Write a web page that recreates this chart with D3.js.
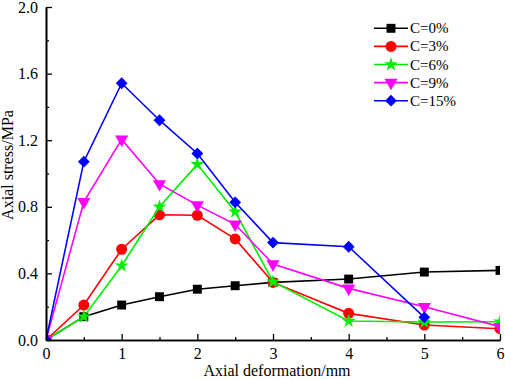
<!DOCTYPE html>
<html lang="en">
<head>
<meta charset="utf-8">
<title>Axial stress vs deformation</title>
<script src="https://cdn.jsdelivr.net/npm/d3@7"></script>
<style>
body { margin: 0; background: #fff; }
svg text { font-family: "Liberation Serif", "Times New Roman", serif; }
</style>
</head>
<body>
<script>
var w = 505, h = 379;
var mLeft = 46, mRight = 500, mTop = 7, mBottom = 340;

// data
var deformation = [0, 0.5, 1, 1.5, 2, 2.5, 3, 4, 5, 6];
var c0 = [0, 0.14, 0.21, 0.26, 0.305, 0.326, 0.346, 0.366, 0.408, 0.418];
var c3 = [0, 0.21, 0.545, 0.752, 0.749, 0.607, 0.346, 0.16, 0.09, 0.068];
var c6 = [0, 0.14, 0.446, 0.80, 1.055, 0.77, 0.35, 0.114, 0.108, 0.11];
var c9 = [0, 0.83, 1.205, 0.937, 0.81, 0.695, 0.456, 0.31, 0.2, 0.08];
var c15 = [0, 1.071, 1.542, 1.32, 1.12, 0.827, 0.585, 0.56, 0.136];
var seriesNames = ["C=0%", "C=3%", "C=6%", "C=9%", "C=15%"];
var seriesColors = ["#000000", "#ff0000", "#00ee00", "#ff00ff", "#0000ff"];
var seriesValues = [c0, c3, c6, c9, c15];
var xTicks = [0, 1, 2, 3, 4, 5, 6];
var yTicks = [0, 0.4, 0.8, 1.2, 1.6, 2.0];

var x = d3.scaleLinear().domain([0, 6]).range([mLeft, mRight]);
var y = d3.scaleLinear().domain([0, 2]).range([mBottom, mTop]);

var svg = d3.select("body").append("svg")
    .attr("width", w)
    .attr("height", h);

svg.append("defs").append("clipPath").attr("id", "plot")
    .append("rect")
    .attr("x", mLeft).attr("y", mTop - 10)
    .attr("width", mRight - mLeft).attr("height", mBottom - mTop + 10);

// marker shapes
function marker(i) {
    if (i === 0) return d3.symbol().type(d3.symbolSquare).size(80)();
    if (i === 1) return d3.symbol().type(d3.symbolCircle).size(95)();
    if (i === 2) return d3.symbol().type(d3.symbolStar).size(60)();
    if (i === 3) return d3.symbol().type(d3.symbolTriangle).size(75)();
    return d3.symbol().type(d3.symbolSquare).size(70)();
}
function markerRot(i) {
    if (i === 3) return " rotate(180)";
    if (i === 4) return " rotate(45)";
    return "";
}

var line = d3.line()
    .x(function(d) { return x(d[0]); })
    .y(function(d) { return y(d[1]); });

var plot = svg.append("g").attr("clip-path", "url(#plot)");

seriesValues.forEach(function(vals, i) {
    var pts = vals.map(function(v, j) { return [deformation[j], v]; });
    plot.append("path")
        .datum(pts)
        .attr("fill", "none")
        .attr("stroke", seriesColors[i])
        .attr("stroke-width", 1.6)
        .attr("d", line);
    plot.selectAll(".m" + i)
        .data(pts)
        .enter()
        .append("path")
        .attr("class", "m" + i)
        .attr("d", marker(i))
        .attr("fill", seriesColors[i])
        .attr("transform", function(d) {
            return "translate(" + x(d[0]) + "," + y(d[1]) + ")" + markerRot(i);
        });
});

// axes, ticks pointing inward
var xAxis = d3.axisBottom(x).tickValues(xTicks).tickFormat(d3.format("d"))
    .tickSizeInner(-6).tickSizeOuter(0).tickPadding(8);
var xMinor = d3.axisBottom(x).tickValues([0.5, 1.5, 2.5, 3.5, 4.5, 5.5])
    .tickFormat("").tickSizeInner(-3).tickSizeOuter(0);
var yAxis = d3.axisLeft(y).tickValues(yTicks).tickFormat(d3.format(".1f"))
    .tickSizeInner(-6).tickSizeOuter(0).tickPadding(8);
var yMinor = d3.axisLeft(y).tickValues([0.2, 0.6, 1.0, 1.4, 1.8])
    .tickFormat("").tickSizeInner(-3).tickSizeOuter(0);

function styleAxis(g) {
    g.select(".domain").attr("stroke-width", 1.6);
    g.selectAll(".tick line").attr("stroke-width", 1.3);
    g.selectAll(".tick text")
        .attr("font-size", 16)
        .attr("font-family", "Liberation Serif, Times New Roman, serif");
}

svg.append("g").attr("transform", "translate(0," + mBottom + ")").call(xMinor).call(styleAxis);
svg.append("g").attr("transform", "translate(0," + mBottom + ")").call(xAxis).call(styleAxis);
svg.append("g").attr("transform", "translate(" + mLeft + ",0)").call(yMinor).call(styleAxis);
svg.append("g").attr("transform", "translate(" + mLeft + ",0)").call(yAxis).call(styleAxis);

svg.selectAll(".tick text").attr("fill", "#000");

// axis titles
svg.append("text")
    .attr("x", (mLeft + mRight) / 2 + 4)
    .attr("y", 376)
    .attr("text-anchor", "middle")
    .attr("font-size", 16)
    .text("Axial deformation/mm");

svg.append("text")
    .attr("transform", "translate(13,165) rotate(-90)")
    .attr("text-anchor", "middle")
    .attr("font-size", 16)
    .text("Axial stress/MPa");

// legend
var legend = svg.append("g");
seriesNames.forEach(function(name, i) {
    var ly = 28.3 + i * 18.1;
    legend.append("line")
        .attr("x1", 374).attr("x2", 408)
        .attr("y1", ly).attr("y2", ly)
        .attr("stroke", seriesColors[i])
        .attr("stroke-width", 1.6);
    legend.append("path")
        .attr("d", marker(i))
        .attr("fill", seriesColors[i])
        .attr("transform", "translate(391," + ly + ")" + markerRot(i));
    legend.append("text")
        .attr("x", 410)
        .attr("y", ly + 5)
        .attr("font-size", 15)
        .text(name);
});
</script>
</body>
</html>
